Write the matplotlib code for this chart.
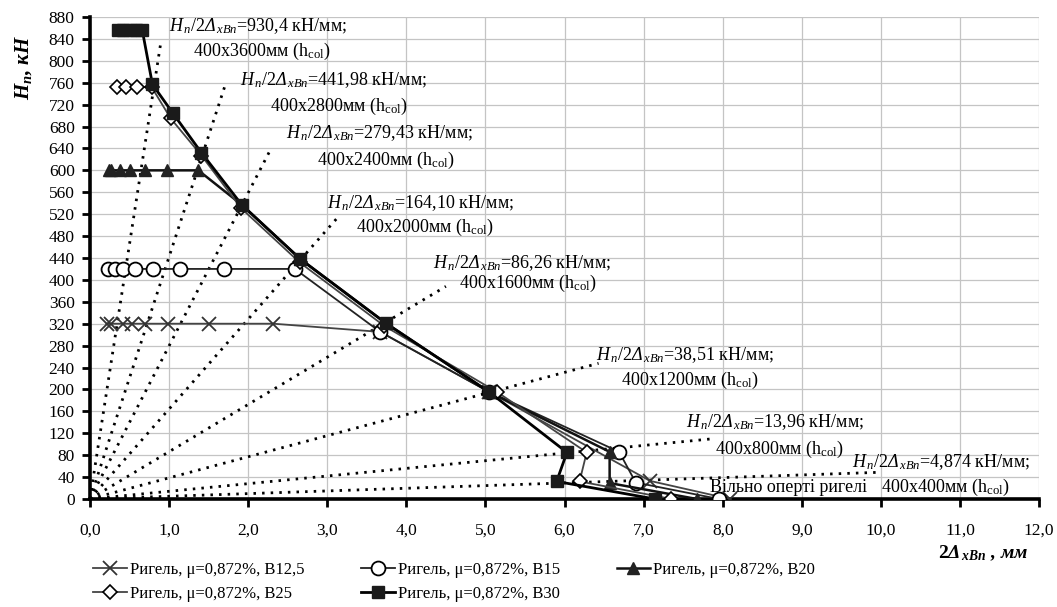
"""Load-displacement diagram for beams with different column heights."""
import matplotlib
matplotlib.use("Agg")
import matplotlib.pyplot as plt
from matplotlib.ticker import MultipleLocator, FuncFormatter

plt.rcParams["font.family"] = ["Liberation Serif", "DejaVu Serif"]
plt.rcParams["mathtext.fontset"] = "custom"
plt.rcParams["mathtext.rm"] = "Liberation Serif"
plt.rcParams["mathtext.it"] = "Liberation Serif:italic"
plt.rcParams["mathtext.bf"] = "Liberation Serif:bold"
plt.rcParams["mathtext.bfit"] = "Liberation Serif:bold:italic"
# 'it' forces capital Greek upright, so italic Delta goes through the sf slot
plt.rcParams["mathtext.sf"] = "Liberation Serif:italic"

# test series: displacement 2Δ (mm) vs horizontal load H (kN)
b125_x = [0.21, 0.27, 0.42, 0.53, 0.70, 0.99, 1.50, 2.32, 3.67, 5.04, 7.08, 8.09]
b125_y = [320, 320, 320, 320, 320, 320, 320, 320, 305, 196, 33, 0]

b15_x = [0.23, 0.32, 0.42, 0.57, 0.80, 1.14, 1.69, 2.59, 3.67, 5.04, 6.69, 6.90, 7.95]
b15_y = [420, 420, 420, 420, 420, 420, 420, 420, 305, 196, 86, 30, 0]

b20_x = [0.24, 0.27, 0.38, 0.51, 0.70, 0.97, 1.37, 1.92, 2.66, 3.74, 5.04, 6.57, 6.57, 7.67]
b20_y = [600, 600, 600, 600, 600, 600, 600, 537, 438, 321, 196, 86, 29, 0]

b25_x = [0.34, 0.46, 0.59, 0.78, 1.02, 1.41, 1.91, 2.65, 3.72, 5.15, 6.28, 6.19, 7.35]
b25_y = [752, 752, 752, 752, 695, 627, 531, 432, 316, 195, 85, 32, 0]

b30_x = [0.35, 0.42, 0.50, 0.58, 0.66, 0.79, 1.05, 1.41, 1.92, 2.66, 3.74, 5.04, 6.03, 5.90, 7.14]
b30_y = [857, 857, 857, 857, 857, 757, 704, 632, 537, 438, 321, 196, 85, 32, 0]

series_labels = ["Ригель, μ=0,872%, B12,5", "Ригель, μ=0,872%, B15",
                 "Ригель, μ=0,872%, B20", "Ригель, μ=0,872%, B25",
                 "Ригель, μ=0,872%, B30"]

# stiffness rays H/2Δ (kN/mm) for each column height
stiffness = [930.4, 441.98, 279.43, 164.10, 86.26, 38.51, 13.96, 4.874]
stiffness_text = ["930,4", "441,98", "279,43", "164,10", "86,26", "38,51", "13,96", "4,874"]
column_text = ["400x3600мм", "400x2800мм", "400x2400мм", "400x2000мм",
               "400x1600мм", "400x1200мм", "400x800мм", "400x400мм"]
ray_end_x = [0.89, 1.71, 2.29, 3.15, 4.50, 6.43, 7.90, 10.0]

# label anchors (left edge of each line, data coords)
lbl1_pos = [(1.00, 863), (1.90, 765), (2.48, 668), (3.00, 540),
            (4.34, 430), (6.40, 262), (7.54, 140), (9.63, 68)]
lbl2_pos = [(1.30, 817), (2.27, 717), (2.87, 619), (3.36, 496),
            (4.66, 394), (6.72, 216), (7.90, 91), (10.0, 21)]

fig = plt.figure(figsize=(10.57, 6.07), dpi=100)
ax = fig.add_axes([0.0851, 0.178, 0.898, 0.794])

ax.set_xlim(0, 12)
ax.set_ylim(0, 880)
ax.xaxis.set_major_locator(MultipleLocator(1))
ax.yaxis.set_major_locator(MultipleLocator(40))
ax.xaxis.set_major_formatter(FuncFormatter(lambda v, p: f"{v:.1f}".replace(".", ",")))
ax.yaxis.set_major_formatter(FuncFormatter(lambda v, p: f"{v:.0f}"))
ax.grid(True, color="#c4c4c4", linewidth=0.9)
ax.set_axisbelow(True)
for side in ("top", "right"):
    ax.spines[side].set_visible(False)
for side in ("left", "bottom"):
    ax.spines[side].set_linewidth(2.6)
ax.tick_params(axis="both", direction="out", length=6, width=2, labelsize=12.5)
ax.tick_params(axis="x", pad=11)
ax.tick_params(axis="y", pad=5)

# stiffness rays from the origin
for k, xe in zip(stiffness, ray_end_x):
    ax.plot([0, xe], [0, k * xe], color="black", linewidth=2.0,
            linestyle=(0, (0.9, 2.2)), dash_capstyle="butt", zorder=2)

for i in range(len(stiffness)):
    x1, y1 = lbl1_pos[i]
    x2, y2 = lbl2_pos[i]
    ax.text(x1, y1, r"$H_{\,n}/2\mathsf{\Delta}_{\,xBn}$=" + stiffness_text[i] + " кН/мм;",
            fontsize=13, ha="left", va="center", zorder=5)
    ax.text(x2, y2, column_text[i] + r" (h$_\mathregular{col}$)",
            fontsize=13, ha="left", va="center", zorder=5)
ax.text(7.84, 21, "Вільно оперті ригелі", fontsize=13, ha="left", va="center", zorder=5)

h1, = ax.plot(b125_x, b125_y, color="#444444", linewidth=1.3, marker="x",
              markersize=10, markeredgewidth=1.3, markeredgecolor="#333333", zorder=3)
h2, = ax.plot(b15_x, b15_y, color="#222222", linewidth=1.3, marker="o",
              markersize=10, markerfacecolor="white", markeredgecolor="black",
              markeredgewidth=1.3, zorder=3)
h3, = ax.plot(b20_x, b20_y, color="#111111", linewidth=1.8, marker="^",
              markersize=9, markerfacecolor="#222222", markeredgecolor="#222222", zorder=3)
h4, = ax.plot(b25_x, b25_y, color="#444444", linewidth=1.3, marker="D",
              markersize=7, markerfacecolor="white", markeredgecolor="black",
              markeredgewidth=1.2, zorder=4)
h5, = ax.plot(b30_x, b30_y, color="black", linewidth=2.0, marker="s",
              markersize=9, markerfacecolor="#1a1a1a", markeredgecolor="#1a1a1a", zorder=4)

handles = [h1, h4, h2, h5, h3]
labels = [series_labels[0], series_labels[3], series_labels[1], series_labels[4], series_labels[2]]
fig.legend(handles, labels, loc="upper left", bbox_to_anchor=(0.082, 0.085),
           ncol=3, frameon=False, fontsize=12, handlelength=2.0, handletextpad=0.2,
           columnspacing=3.4, labelspacing=0.45, borderaxespad=0)

fig.text(0.022, 1 - 68 / 607, r"$\mathbfit{H}_{\mathbfit{n}}$, кН", rotation=90,
         fontsize=15, fontweight="bold", fontstyle="italic", ha="center", va="center")
fig.text(0.93, 1 - 553 / 607, r"$\mathbf{2}\mathbfit{\Delta}_{\,\mathbfit{xBn}}$ , мм",
         fontsize=14, fontweight="bold", fontstyle="italic", ha="center", va="center")

fig.savefig("out.png", dpi=100)
